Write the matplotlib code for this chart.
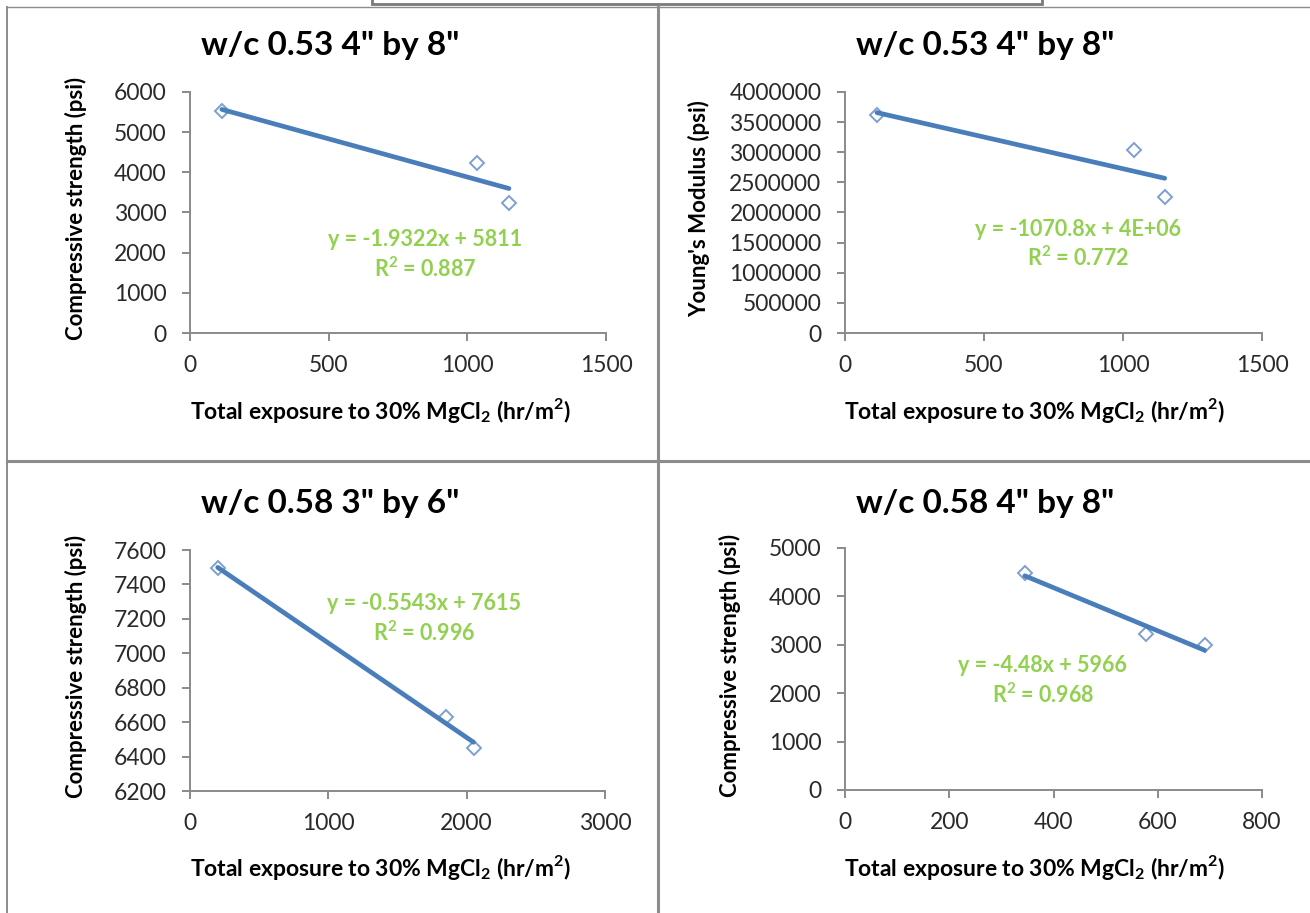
import numpy as np
import matplotlib
matplotlib.use("Agg")
import matplotlib.pyplot as plt
from matplotlib.lines import Line2D
from matplotlib.patches import Rectangle

plt.rcParams['font.family'] = ['Lato', 'DejaVu Sans']

W, H = 1310, 913

# ---- data ----
titles = ['w/c 0.53 4" by 8"', 'w/c 0.53 4" by 8"', 'w/c 0.58 3" by 6"', 'w/c 0.58 4" by 8"']
ylabels = ['Compressive strength (psi)', "Young's Modulus (psi)",
           'Compressive strength (psi)', 'Compressive strength (psi)']
xlabel = 'Total exposure to 30% MgCl$_\\mathregular{2}$ (hr/m$^\\mathregular{2}$)'

tl_x = [115, 1035, 1150]
tl_y = [5520, 4230, 3230]
tr_x = [115, 1040, 1150]
tr_y = [3620000, 3040000, 2250000]
bl_x = [200, 1850, 2050]
bl_y = [7495, 6630, 6450]
br_x = [345, 578, 690]
br_y = [4480, 3220, 3000]

equations = ['y = -1.9322x + 5811', 'y = -1070.8x + 4E+06',
             'y = -0.5543x + 7615', 'y = -4.48x + 5966']
r2_texts = ['R$^\\mathregular{2}$ = 0.887', 'R$^\\mathregular{2}$ = 0.772',
            'R$^\\mathregular{2}$ = 0.996', 'R$^\\mathregular{2}$ = 0.968']

xticks = [[0, 500, 1000, 1500], [0, 500, 1000, 1500],
          [0, 1000, 2000, 3000], [0, 200, 400, 600, 800]]
yticks = [[0, 1000, 2000, 3000, 4000, 5000, 6000],
          list(range(0, 4000001, 500000)),
          [6200, 6400, 6600, 6800, 7000, 7200, 7400, 7600],
          [0, 1000, 2000, 3000, 4000, 5000]]

xs = [tl_x, tr_x, bl_x, br_x]
ys = [tl_y, tr_y, bl_y, br_y]

# ---- layout (pixels) ----
axes_px = [(190, 606, 92, 333), (845, 1262, 92, 333),
           (190, 605, 550, 791), (845, 1262, 548, 790)]
panel_cx = [330, 985, 330, 985]
title_y = [45, 45, 503, 503]
ylab_x = [76, 699, 76, 730]
xlab_y = [410, 410, 867, 867]
xlab_cx = [381, 1035, 381, 1035]
eq_pos = [(425, 240), (1078, 229), (424, 604), (1043, 666)]

fig = plt.figure(figsize=(W / 100, H / 100), dpi=100)
fig.patch.set_facecolor('white')

def fx(px):
    return px / W

def fy(py):
    return 1 - py / H

line_col = '#4A7EBB'
mark_col = '#7E9FD1'
eq_col = '#92D050'
axis_col = '#8A8A8A'

for i in range(4):
    l, r, t, b = axes_px[i]
    ax = fig.add_axes([fx(l), fy(b), (r - l) / W, (b - t) / H])
    x = np.array(xs[i], dtype=float)
    y = np.array(ys[i], dtype=float)
    ax.plot(x, y, linestyle='none', marker='D', markersize=7.5,
            markerfacecolor='white', markeredgecolor=mark_col,
            markeredgewidth=1.4, zorder=3)
    k, c = np.polyfit(x, y, 1)
    xl = np.array([x.min(), x.max()])
    ax.plot(xl, k * xl + c, color=line_col, linewidth=3.4,
            solid_capstyle='round', zorder=4)
    ax.set_xlim(xticks[i][0], xticks[i][-1])
    ax.set_ylim(yticks[i][0], yticks[i][-1])
    ax.set_xticks(xticks[i])
    ax.set_yticks(yticks[i])
    ax.set_xticklabels([str(v) for v in xticks[i]])
    ax.set_yticklabels([str(v) for v in yticks[i]])
    for s in ['top', 'right']:
        ax.spines[s].set_visible(False)
    for s in ['left', 'bottom']:
        ax.spines[s].set_color(axis_col)
        ax.spines[s].set_linewidth(1.4)
    ax.tick_params(direction='out', length=6, width=1.4, color=axis_col,
                   labelsize=16.5, labelcolor='#2a2a2a')
    ax.tick_params(axis='x', pad=10)
    ax.tick_params(axis='y', pad=11)
    ax.set_facecolor('none')
    ax.patch.set_alpha(0)

    fig.text(fx(panel_cx[i]), fy(title_y[i]), titles[i], ha='center',
             va='center', fontsize=24, fontweight='bold', color='black')
    fig.text(fx(ylab_x[i]), fy((t + b) / 2 - 4), ylabels[i], rotation=90,
             ha='center', va='center', fontsize=16, fontweight='bold',
             color='black')
    fig.text(fx(xlab_cx[i]), fy(xlab_y[i]), xlabel, ha='center',
             va='center', fontsize=16.5, fontweight='bold', color='black')
    ex, ey = eq_pos[i]
    fig.text(fx(ex), fy(ey), equations[i], ha='center', va='center',
             fontsize=15.5, fontweight='bold', color=eq_col)
    fig.text(fx(ex), fy(ey + 29), r2_texts[i], ha='center', va='center',
             fontsize=15.5, fontweight='bold', color=eq_col)

# ---- panel borders ----
bcol = '#8C8C8C'
def fline(x0, y0, x1, y1, lw=2.0):
    fig.add_artist(Line2D([fx(x0), fx(x1)], [fy(y0), fy(y1)],
                          color=bcol, linewidth=lw, transform=fig.transFigure))

fline(658, 6, 658, 913, 2.2)
fline(7, 461, 1310, 461, 2.2)
fline(7, 7, 7, 913, 1.4)
fline(7, 7, 658, 7, 1.0)
fline(658, 7, 1310, 7, 1.0)
fig.add_artist(Rectangle((fx(372), fy(4)), fx(1042) - fx(372), fy(-6) - fy(4),
                         transform=fig.transFigure, facecolor='white',
                         edgecolor='#7A7A7A', linewidth=2.0))

fig.savefig('out.png', dpi=100, facecolor='white')
